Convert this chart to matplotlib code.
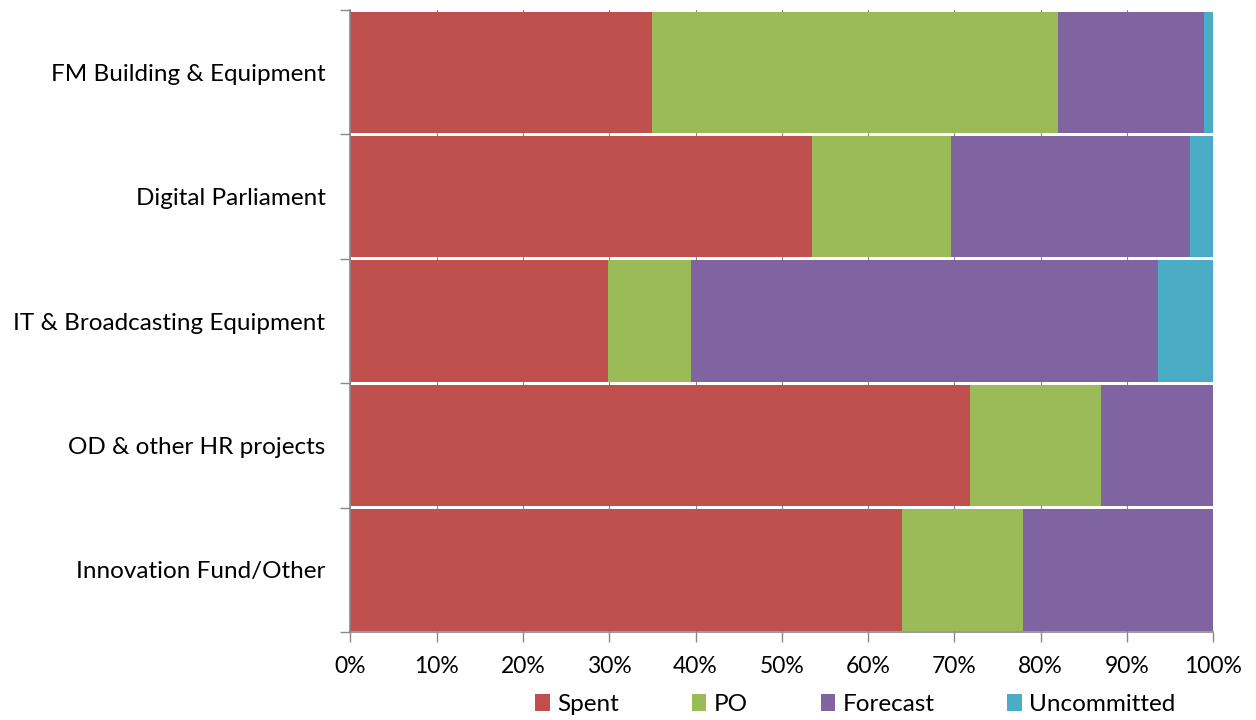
import numpy as np
import matplotlib.pyplot as plt
from matplotlib.ticker import FixedLocator, FuncFormatter

plt.rcParams['font.family'] = ['Lato', 'DejaVu Sans']

# categories, top to bottom
categorias = ["FM Building & Equipment", "Digital Parliament",
              "IT & Broadcasting Equipment", "OD & other HR projects",
              "Innovation Fund/Other"]
spent = [35.0, 53.5, 29.8, 71.8, 63.9]
po = [47.0, 16.1, 9.7, 15.2, 14.1]
forecast = [16.9, 27.7, 54.1, 13.0, 22.0]
uncommitted = [1.1, 2.7, 6.4, 0.0, 0.0]

series = [("Spent", spent, "#C0504D"), ("PO", po, "#9BBB59"),
          ("Forecast", forecast, "#8064A2"), ("Uncommitted", uncommitted, "#4BACC6")]

fig = plt.figure(figsize=(12.56, 7.2), dpi=100)
ax = fig.add_axes([0.279, 0.122, 0.687, 0.864])

y = np.arange(len(categorias))
izq = np.zeros(len(categorias))
for nombre, valores, color in series:
    ax.barh(y, valores, left=izq, height=0.975, color=color, label=nombre,
            edgecolor="none", zorder=2)
    izq += np.array(valores)

ax.set_xlim(0, 100)
ax.set_ylim(len(categorias) - 0.5, -0.5)
ax.set_xticks(np.arange(0, 101, 10))
ax.xaxis.set_major_formatter(FuncFormatter(lambda v, p: f"{v:.0f}%"))
ax.grid(axis="x", color="#888888", linewidth=0.8, zorder=0)
ax.set_axisbelow(True)

# ticks on category boundaries, labels in the middle
ax.yaxis.set_major_locator(FixedLocator(np.arange(-0.5, len(categorias), 1)))
ax.yaxis.set_major_formatter(FuncFormatter(lambda v, p: ""))
ax.yaxis.set_minor_locator(FixedLocator(y))
ax.set_yticklabels(categorias, minor=True)
ax.tick_params(axis="y", which="minor", length=0, pad=18, labelsize=17.5)
ax.tick_params(axis="y", which="major", length=7, width=1, color="#888888")
ax.tick_params(axis="x", length=7, width=1, color="#888888", labelsize=16.5, pad=10)

for lado in ["top", "right"]:
    ax.spines[lado].set_visible(False)
for lado in ["left", "bottom"]:
    ax.spines[lado].set_color("#888888")
    ax.spines[lado].set_linewidth(1.2)

ax.legend(loc="center", bbox_to_anchor=(0.681, 0.021), bbox_transform=fig.transFigure,
          ncol=4, frameon=False, fontsize=17.5, handlelength=0.6, handleheight=0.7,
          handletextpad=0.3, columnspacing=3.0, borderpad=0)

plt.savefig("out.png", dpi=100)
